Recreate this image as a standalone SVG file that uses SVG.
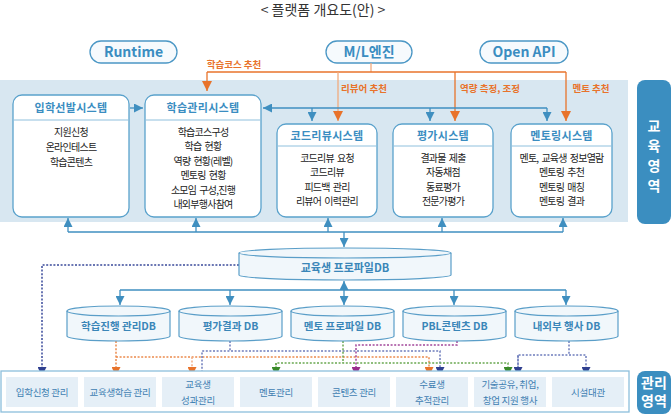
<svg xmlns="http://www.w3.org/2000/svg" width="671" height="415" viewBox="0 0 671 415">
<style>
text{font-family:'Noto Sans CJK KR','Noto Sans',sans-serif;text-anchor:middle}
.title{font-size:14px;fill:#333}
.pill{fill:#f6fafd;stroke:#4b97c5;stroke-width:1.3}
.pilltxt{font-size:14px;font-weight:bold;fill:#3a8dc1}
.box{fill:#fff;stroke:#5aa2cc;stroke-width:1.3}
.div{stroke:#8fc0dd;stroke-width:1}
.btitle{font-size:11px;font-weight:bold;fill:#3a8dc1;letter-spacing:0.3px}
.item{font-size:10px;fill:#222;letter-spacing:-0.75px;word-spacing:1.5px}
.olab{font-size:9.5px;font-weight:bold;fill:#e8732b}
.cyl{fill:#f1f7fb;stroke:#5a9ec8;stroke-width:1.2}
.rim{fill:none;stroke:#5a9ec8;stroke-width:1.2}
.dbt{font-size:10.5px;font-weight:bold;fill:#3a86b8}
.cell{fill:#e5eff7}
.ctxt{font-size:9.5px;fill:#3f80b2;letter-spacing:-0.3px}
.dark{fill:#3b8ec0}
.dtxt{font-size:14px;font-weight:bold;fill:#fff}
.bl{fill:none;stroke:#3f8fc0;stroke-width:1.3}
.or{fill:none;stroke:#e8732b;stroke-width:1.3}
.orl{fill:none;stroke:#f2ab7e;stroke-width:1.3}
.dot{fill:none;stroke-width:1.5;stroke-dasharray:2 1.6}
</style>
<defs>
<marker id="mB" viewBox="0 0 10 10" refX="10" refY="5" markerWidth="9" markerHeight="9" markerUnits="userSpaceOnUse" orient="auto-start-reverse"><path d="M0,0 L10,5 L0,10 z" fill="#3f8fc0"/></marker>
<marker id="mO" viewBox="0 0 10 10" refX="10" refY="5" markerWidth="10" markerHeight="10" markerUnits="userSpaceOnUse" orient="auto"><path d="M0,0 L10,5 L0,10 z" fill="#e8732b"/></marker>
<marker id="mN" viewBox="0 0 10 10" refX="10" refY="5" markerWidth="9" markerHeight="9" markerUnits="userSpaceOnUse" orient="auto"><path d="M0,0 L10,5 L0,10 z" fill="#2f3f8f"/></marker>
<marker id="mG" viewBox="0 0 10 10" refX="10" refY="5" markerWidth="9" markerHeight="9" markerUnits="userSpaceOnUse" orient="auto"><path d="M0,0 L10,5 L0,10 z" fill="#3a8a2a"/></marker>
<marker id="mP" viewBox="0 0 10 10" refX="10" refY="5" markerWidth="9" markerHeight="9" markerUnits="userSpaceOnUse" orient="auto"><path d="M0,0 L10,5 L0,10 z" fill="#9a2d8c"/></marker>
<marker id="mOd" viewBox="0 0 10 10" refX="10" refY="5" markerWidth="9" markerHeight="9" markerUnits="userSpaceOnUse" orient="auto"><path d="M0,0 L10,5 L0,10 z" fill="#e8732b"/></marker>
</defs>

<text class="title" x="323" y="15">&lt; 플랫폼 개요도(안) &gt;</text>

<!-- education band -->
<rect x="0" y="80" width="628" height="142" fill="#d8e7f1"/>
<g id="edu-label"><rect class="dark" x="637" y="80" width="34" height="144" rx="8"/>
<text class="dtxt" x="654" y="131">교</text><text class="dtxt" x="654" y="151">육</text><text class="dtxt" x="654" y="171">영</text><text class="dtxt" x="654" y="191">역</text></g>

<g id="runtime"><rect class="pill" x="90" y="41" width="87" height="22" rx="11"/><text class="pilltxt" x="133.5" y="57">Runtime</text></g>
<g id="ml"><rect class="pill" x="326" y="41" width="86" height="22" rx="11"/><text class="pilltxt" x="369" y="57">M/L엔진</text></g>
<g id="openapi"><rect class="pill" x="480" y="41" width="88" height="22" rx="11"/><text class="pilltxt" x="524" y="57">Open API</text></g>

<g id="connectors">
<path class="orl" d="M371,63 V72"/>
<path class="or" d="M207,72 H566"/>
<path class="or" d="M207,72 V91" marker-end="url(#mO)"/>
<path class="orl" d="M338,72 V121" marker-end="url(#mO)"/>
<path class="or" d="M455,72 V121" marker-end="url(#mO)"/>
<path class="or" d="M566,72 V121" marker-end="url(#mO)"/>
<text class="olab" x="234" y="68">학습코스 추천</text>
<text class="olab" x="364" y="92">리뷰어 추천</text>
<text class="olab" x="490" y="92">역량 측정, 조정</text>
<text class="olab" x="591" y="92">멘토 추천</text>

<path class="bl" d="M130,108 H143" marker-end="url(#mB)"/>
<path class="bl" d="M547,108 H263" marker-end="url(#mB)"/>
<path class="bl" d="M312,108 V121" marker-end="url(#mB)"/>
<path class="bl" d="M430,108 V121" marker-end="url(#mB)"/>
<path class="bl" d="M547,108 V121" marker-end="url(#mB)"/>

<path class="bl" d="M68,232 H563"/>
<path class="bl" d="M68,232 V218" marker-end="url(#mB)"/>
<path class="bl" d="M196,232 V218" marker-end="url(#mB)"/>
<path class="bl" d="M328,232 V218" marker-end="url(#mB)"/>
<path class="bl" d="M442,232 V218" marker-end="url(#mB)"/>
<path class="bl" d="M563,232 V218" marker-end="url(#mB)"/>
<path class="bl" d="M344,232 V247" marker-end="url(#mB)"/>

<path class="bl" d="M344,281 V305" marker-start="url(#mB)" marker-end="url(#mB)"/>
<path class="bl" d="M120,290 H566"/>
<path class="bl" d="M120,290 V305" marker-end="url(#mB)"/>
<path class="bl" d="M230,290 V305" marker-end="url(#mB)"/>
<path class="bl" d="M454,290 V305" marker-end="url(#mB)"/>
<path class="bl" d="M566,290 V305" marker-end="url(#mB)"/>

<path class="dot" stroke="#3a4a9a" d="M239,265 H42 V376" marker-end="url(#mN)"/>
<path class="dot" stroke="#ec8a4c" d="M116,341 V376" marker-end="url(#mOd)"/>
<path class="dot" stroke="#ec8a4c" d="M116,357 H429 V376" marker-end="url(#mOd)"/>
<path class="dot" stroke="#f2ad84" d="M192,357 V376" marker-end="url(#mOd)"/>
<path class="dot" stroke="#6d7cbc" d="M230,341 V351"/>
<path class="dot" stroke="#6d7cbc" d="M202,376 V351 H440 V376" marker-start="url(#mN)" marker-end="url(#mN)"/>
<path class="dot" stroke="#6aa850" d="M343,341 V363"/>
<path class="dot" stroke="#6aa850" d="M276,376 V363 H508 V376" marker-end="url(#mG)"/>
<path class="dot" stroke="#6aa850" d="M276,363 V376" marker-end="url(#mG)"/>
<path class="dot" stroke="#a2479a" d="M457,341 V345 H356 V376" marker-end="url(#mP)"/>
<path class="dot" stroke="#6d7cbc" d="M569,341 V355"/>
<path class="dot" stroke="#6d7cbc" d="M518,376 V355 H586 V376" marker-end="url(#mN)"/>
<path class="dot" stroke="#6d7cbc" d="M518,355 V376" marker-end="url(#mN)"/>
</g>

<g id="admission-system"><rect class="box" x="13" y="95" width="116" height="122" rx="9"/>
<text class="btitle" x="71" y="112">입학선발시스템</text><line class="div" x1="13" y1="120" x2="129" y2="120"/>
<text class="item" x="71" y="135.5">지원신청</text><text class="item" x="71" y="150.5">온라인테스트</text><text class="item" x="71" y="165.5">학습콘텐츠</text></g>

<g id="learning-system"><rect class="box" x="145" y="95" width="116" height="122" rx="9"/>
<text class="btitle" x="203" y="112">학습관리시스템</text><line class="div" x1="145" y1="120" x2="261" y2="120"/>
<text class="item" x="203" y="135.5">학습코스구성</text><text class="item" x="203" y="150">학습 현황</text><text class="item" x="203" y="164.5">역량 현황(레벨)</text><text class="item" x="203" y="179">멘토링 현황</text><text class="item" x="203" y="193.5">소모임 구성,진행</text><text class="item" x="203" y="208">내외부행사참여</text></g>

<g id="codereview-system"><rect class="box" x="277" y="124" width="100" height="93" rx="9"/>
<text class="btitle" x="327" y="139.5">코드리뷰시스템</text><line class="div" x1="277" y1="146" x2="377" y2="146"/>
<text class="item" x="327" y="161.5">코드리뷰 요청</text><text class="item" x="327" y="176">코드리뷰</text><text class="item" x="327" y="190.5">피드백 관리</text><text class="item" x="327" y="205">리뷰어 이력관리</text></g>

<g id="evaluation-system"><rect class="box" x="393" y="124" width="100" height="93" rx="9"/>
<text class="btitle" x="443" y="139.5">평가시스템</text><line class="div" x1="393" y1="146" x2="493" y2="146"/>
<text class="item" x="443" y="161.5">결과물 제출</text><text class="item" x="443" y="176">자동채점</text><text class="item" x="443" y="190.5">동료평가</text><text class="item" x="443" y="205">전문가평가</text></g>

<g id="mentoring-system"><rect class="box" x="511" y="124" width="101" height="93" rx="9"/>
<text class="btitle" x="561.5" y="139.5">멘토링시스템</text><line class="div" x1="511" y1="146" x2="612" y2="146"/>
<text class="item" x="561.5" y="161.5">멘토, 교육생 정보열람</text><text class="item" x="561.5" y="176">멘토링 추천</text><text class="item" x="561.5" y="190.5">멘토링 매칭</text><text class="item" x="561.5" y="205">멘토링 결과</text></g>

<g id="profile-db"><path class="cyl" d="M239,253 A106,5 0 0 1 451,253 V275 A106,5 0 0 1 239,275 Z"/><path class="rim" d="M239,253 A106,5 0 0 0 451,253"/><text class="dbt" x="345" y="271.5" style="font-size:11px">교육생 프로파일DB</text></g>

<g id="learning-db"><path class="cyl" d="M67,311 A51.5,5 0 0 1 170,311 V336 A51.5,5 0 0 1 67,336 Z"/><path class="rim" d="M67,311 A51.5,5 0 0 0 170,311"/><text class="dbt" x="118.5" y="330">학습진행 관리DB</text></g>
<g id="eval-db"><path class="cyl" d="M179,311 A51.5,5 0 0 1 282,311 V336 A51.5,5 0 0 1 179,336 Z"/><path class="rim" d="M179,311 A51.5,5 0 0 0 282,311"/><text class="dbt" x="230.5" y="330">평가결과 DB</text></g>
<g id="mentor-db"><path class="cyl" d="M291,311 A51.5,5 0 0 1 394,311 V336 A51.5,5 0 0 1 291,336 Z"/><path class="rim" d="M291,311 A51.5,5 0 0 0 394,311"/><text class="dbt" x="342.5" y="330">멘토 프로파일 DB</text></g>
<g id="pbl-db"><path class="cyl" d="M403,311 A51.5,5 0 0 1 506,311 V336 A51.5,5 0 0 1 403,336 Z"/><path class="rim" d="M403,311 A51.5,5 0 0 0 506,311"/><text class="dbt" x="454.5" y="330">PBL콘텐츠 DB</text></g>
<g id="event-db"><path class="cyl" d="M515,311 A51.5,5 0 0 1 618,311 V336 A51.5,5 0 0 1 515,336 Z"/><path class="rim" d="M515,311 A51.5,5 0 0 0 618,311"/><text class="dbt" x="566.5" y="330">내외부 행사 DB</text></g>

<g id="management-area"><rect x="1" y="371" width="628" height="41" fill="#fff" stroke="#8dbfdc" stroke-width="1.3"/></g>
<g id="mgmt-admission"><rect class="cell" x="6" y="377" width="72" height="30"/><text class="ctxt" x="42" y="395.5">입학신청 관리</text></g>
<g id="mgmt-learning"><rect class="cell" x="84" y="377" width="72" height="30"/><text class="ctxt" x="120" y="395.5">교육생학습 관리</text></g>
<g id="mgmt-performance"><rect class="cell" x="162" y="377" width="72" height="30"/><text class="ctxt" x="198" y="387.5">교육생</text><text class="ctxt" x="198" y="403.5">성과관리</text></g>
<g id="mgmt-mentor"><rect class="cell" x="240" y="377" width="72" height="30"/><text class="ctxt" x="276" y="395.5">멘토관리</text></g>
<g id="mgmt-content"><rect class="cell" x="318" y="377" width="72" height="30"/><text class="ctxt" x="354" y="395.5">콘텐츠 관리</text></g>
<g id="mgmt-graduate"><rect class="cell" x="396" y="377" width="72" height="30"/><text class="ctxt" x="432" y="387.5">수료생</text><text class="ctxt" x="432" y="403.5">추적관리</text></g>
<g id="mgmt-event"><rect class="cell" x="474" y="377" width="72" height="30"/><text class="ctxt" x="510" y="387.5">기술공유, 취업,</text><text class="ctxt" x="510" y="403.5">창업 지원 행사</text></g>
<g id="mgmt-facility"><rect class="cell" x="552" y="377" width="72" height="30"/><text class="ctxt" x="588" y="395.5">시설대관</text></g>

<g id="mgmt-label"><rect class="dark" x="637" y="371" width="34" height="43" rx="8"/><text class="dtxt" x="654" y="387.5">관리</text><text class="dtxt" x="654" y="406">영역</text></g>
</svg>
